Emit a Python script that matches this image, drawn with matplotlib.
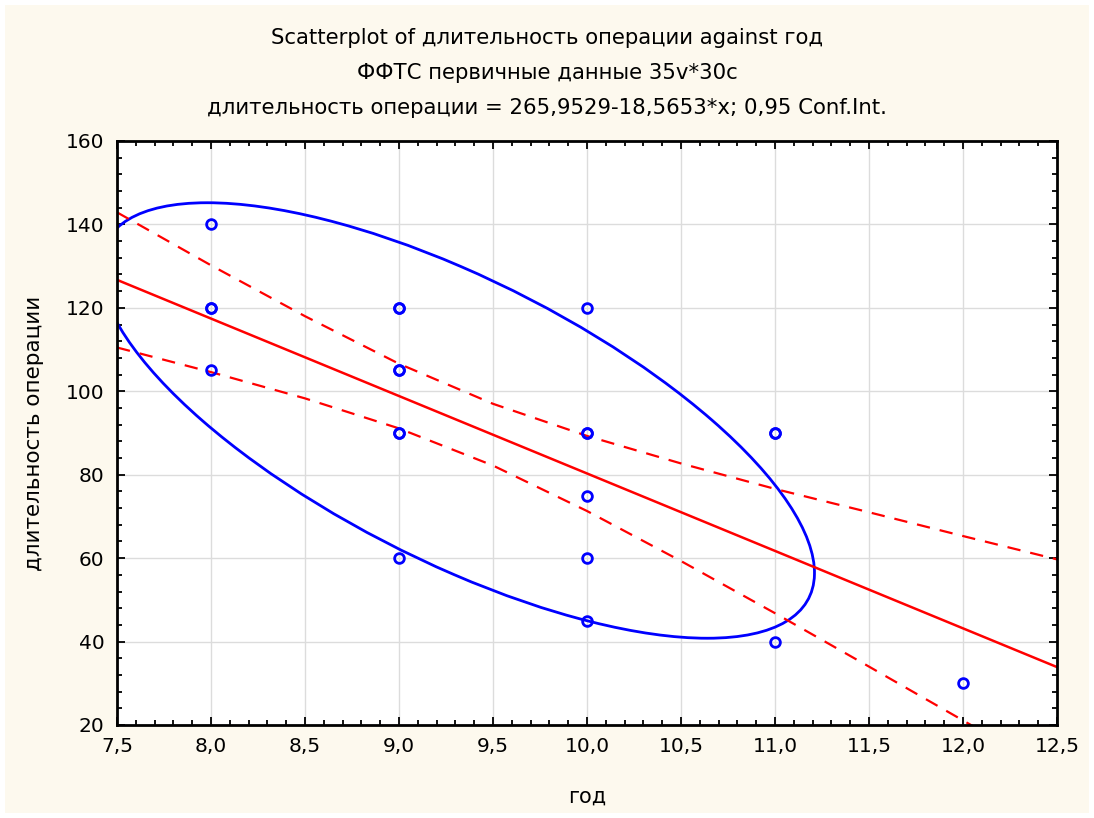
import numpy as np
import matplotlib
matplotlib.use("Agg")
import matplotlib.pyplot as plt
from matplotlib.patches import Ellipse, Rectangle
from matplotlib.ticker import MultipleLocator, FuncFormatter

# observed cases (duplicates drawn twice -> bolder marker)
god = [8, 8, 8, 8,
       9, 9, 9, 9, 9, 9, 9,
       10, 10, 10, 10, 10, 10,
       11, 11, 11,
       12]
dlit = [140, 120, 120, 105,
        120, 120, 105, 105, 90, 90, 60,
        120, 90, 90, 75, 60, 45,
        90, 90, 40,
        30]

# regression from the title
b0 = 265.9529
b1 = -18.5653

# 0.95 confidence band
ci_x = [7.5, 8.0, 8.5, 9.0, 9.5, 10.0, 10.5, 11.0, 11.5, 12.0, 12.5]
ci_hi = [142.9, 130.2, 118.0, 106.6, 97.0, 89.3, 82.7, 76.6, 71.0, 65.3, 59.7]
ci_lo = [110.5, 104.6, 98.3, 91.1, 82.2, 71.3, 59.3, 46.8, 34.0, 21.1, 8.1]

# 95% data ellipse: centre, half-extents and correlation
ell_cx, ell_cy = 9.31, 93.0
ell_sx, ell_sy = 1.90, 52.2
ell_r = -0.70

BG = "#fdf9ee"
FONT = "DejaVu Sans"

fig = plt.figure(figsize=(10.94, 8.18), dpi=100, facecolor="white")
fig.patches.append(Rectangle((5 / 1094, 5 / 818), 1 - 10 / 1094, 1 - 10 / 818,
                             transform=fig.transFigure, facecolor=BG, edgecolor="none", zorder=-10))
ax = fig.add_axes([117 / 1094, 1 - 725 / 818, 940 / 1094, 584 / 818])
ax.set_facecolor("white")

ax.set_xlim(7.5, 12.5)
ax.set_ylim(20, 160)
ax.xaxis.set_major_locator(MultipleLocator(0.5))
ax.xaxis.set_minor_locator(MultipleLocator(0.1))
ax.yaxis.set_major_locator(MultipleLocator(20))
ax.yaxis.set_minor_locator(MultipleLocator(4))
ax.xaxis.set_major_formatter(FuncFormatter(lambda v, p: f"{v:.1f}".replace(".", ",")))
ax.yaxis.set_major_formatter(FuncFormatter(lambda v, p: f"{v:.0f}"))
ax.grid(True, which="major", color="#dcdcdc", linewidth=1.0, zorder=0)
ax.tick_params(which="both", direction="in", top=True, right=True, width=1.3, colors="black",
               labelsize=14.5, labelcolor="black")
ax.tick_params(which="major", length=6, pad=9)
ax.tick_params(which="minor", length=3.5)
for lab in ax.get_xticklabels() + ax.get_yticklabels():
    lab.set_fontfamily(FONT)
for s in ax.spines.values():
    s.set_linewidth(2.0)
    s.set_zorder(5)

# ellipse from covariance
cov = np.array([[ell_sx ** 2, ell_r * ell_sx * ell_sy],
                [ell_r * ell_sx * ell_sy, ell_sy ** 2]])
vals, vecs = np.linalg.eigh(cov)
ang = np.degrees(np.arctan2(vecs[1, 1], vecs[0, 1]))
ax.add_patch(Ellipse((ell_cx, ell_cy), 2 * np.sqrt(vals[1]), 2 * np.sqrt(vals[0]), angle=ang,
                     fill=False, edgecolor="#0000ff", linewidth=2.0, zorder=3))

ax.axline((0, b0), slope=b1, color="#ff0000", linewidth=1.8, zorder=3)
ax.plot(ci_x, ci_hi, color="#ff0000", linewidth=1.6, linestyle=(0, (6, 4.5)), zorder=3)
ax.plot(ci_x, ci_lo, color="#ff0000", linewidth=1.6, linestyle=(0, (6, 4.5)), zorder=3)

ax.plot(god, dlit, linestyle="none", marker="o", markersize=7, markerfacecolor="none",
        markeredgecolor="#0000ff", markeredgewidth=2.0, zorder=4)

ax.set_xlabel("год", fontsize=15, family=FONT, labelpad=22)
ax.set_ylabel("длительность операции", fontsize=15.5, family=FONT, labelpad=16)

fig.text(0.5, 1 - 38 / 818, "Scatterplot of длительность операции against год",
         ha="center", va="center", fontsize=15.3, family=FONT)
fig.text(0.5, 1 - 73 / 818, "ФФТС первичные данные 35v*30c",
         ha="center", va="center", fontsize=15.3, family=FONT)
fig.text(0.5, 1 - 108 / 818, "длительность операции = 265,9529-18,5653*x; 0,95 Conf.Int.",
         ha="center", va="center", fontsize=15.3, family=FONT)

fig.savefig("out.png", dpi=100, facecolor="white")
